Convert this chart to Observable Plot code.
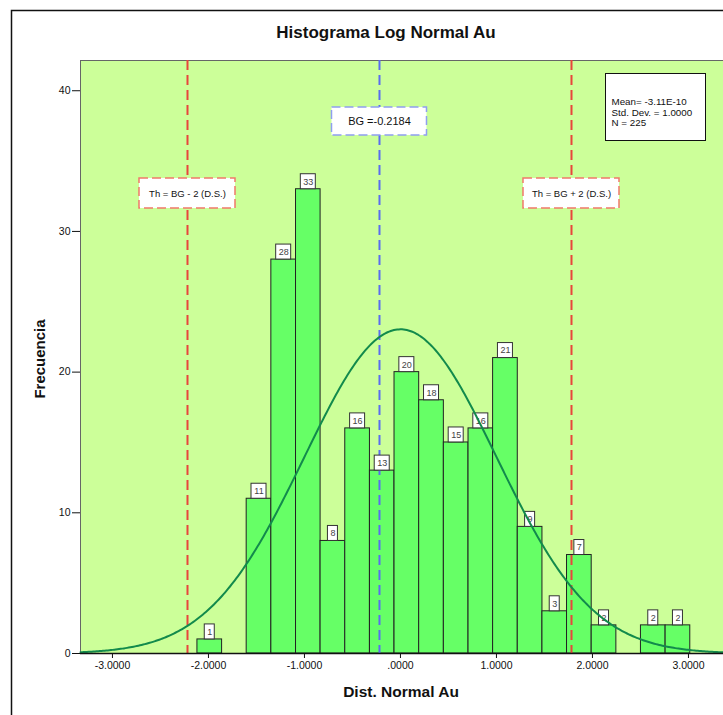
<!DOCTYPE html>
<html>
<head>
<meta charset="utf-8">
<script src="https://cdn.jsdelivr.net/npm/d3@7"></script>
<script src="https://cdn.jsdelivr.net/npm/@observablehq/plot@0.6"></script>
<style>
  html, body { margin: 0; padding: 0; background: white; }
  #chart svg { display: block; }
</style>
</head>
<body>
<div id="chart"></div>
<script>
// ---- data ----
const binEdges = [-2.115, -1.858, -1.602, -1.345, -1.088, -0.832, -0.575, -0.318, -0.062, 0.195,
                  0.452, 0.709, 0.965, 1.222, 1.479, 1.735, 1.992, 2.249, 2.505, 2.762, 3.019];
const counts = [1, 0, 11, 28, 33, 8, 16, 13, 20, 18, 15, 16, 21, 9, 3, 7, 2, 0, 2, 2];
const statMean = -3.11e-10;
const statSD = 1.0;
const statN = 225;
const bgValue = -0.2184;
const thValues = [-2.2184, 1.7816];
const thLabels = ["Th = BG - 2 (D.S.)", "Th = BG + 2 (D.S.)"];
const bgLabel = "BG =-0.2184";
const statsLabel = "Mean= -3.11E-10\nStd. Dev. = 1.0000\nN = 225";
const xTicks = [-3, -2, -1, 0, 1, 2, 3];
const yTicks = [0, 10, 20, 30, 40];

// ---- derived tables ----
const bins = counts.map((c, i) => ({x1: binEdges[i], x2: binEdges[i + 1], mid: (binEdges[i] + binEdges[i + 1]) / 2, count: c}))
  .filter(d => d.count > 0);
const binWidth = (binEdges[binEdges.length - 1] - binEdges[0]) / counts.length;
const xDomain = [-3.333, 3.365];
const curve = d3.range(0, 401).map(i => {
  const x = xDomain[0] + (xDomain[1] - xDomain[0]) * i / 400;
  const z = (x - statMean) / statSD;
  return {x, y: statN * binWidth * Math.exp(-0.5 * z * z) / (statSD * Math.sqrt(2 * Math.PI))};
});

const font = "'Liberation Sans', Arial, sans-serif";

const plot = Plot.plot({
  width: 723,
  height: 715,
  marginLeft: 80,
  marginRight: 0,
  marginTop: 60,
  marginBottom: 62,
  style: {fontFamily: font, fontSize: "10.5px", background: "white", color: "#111", overflow: "visible"},
  x: {domain: xDomain, ticks: xTicks, tickFormat: d => d === 0 ? ".0000" : d.toFixed(4), tickSize: 5, tickPadding: 3, label: null},
  y: {domain: [0, 42.15], ticks: yTicks, tickSize: 8, tickPadding: 2, label: null},
  marks: [
    // outer chart border
    Plot.frame({stroke: "#111", strokeWidth: 1.5, fill: "none", insetLeft: -69, insetTop: -50, insetRight: -10, insetBottom: -80}),
    // plot background
    Plot.frame({fill: "#ccff99", stroke: "#666", strokeWidth: 1}),
    // bars
    Plot.rectY(bins, {x1: "x1", x2: "x2", y1: 0, y2: "count", fill: "#66ff66", stroke: "#222", strokeWidth: 1}),
    // threshold and background lines
    Plot.ruleX(thValues, {stroke: "#e8453c", strokeWidth: 2, strokeDasharray: "10,5"}),
    Plot.ruleX([bgValue], {stroke: "#5a6cf0", strokeWidth: 2, strokeDasharray: "10,5"}),
    // bar count labels
    Plot.rect(bins.filter(d => d.count < 10), {x1: "mid", x2: "mid", y1: "count", y2: "count", insetLeft: -5, insetRight: -5, insetTop: -15, insetBottom: 0, fill: "white", stroke: "#333", strokeWidth: 1}),
    Plot.rect(bins.filter(d => d.count >= 10), {x1: "mid", x2: "mid", y1: "count", y2: "count", insetLeft: -7.5, insetRight: -7.5, insetTop: -15, insetBottom: 0, fill: "white", stroke: "#333", strokeWidth: 1}),
    Plot.text(bins, {x: "mid", y: "count", text: d => String(d.count), dy: -7.5, fontSize: 9, fill: "#444"}),
    // normal curve
    Plot.line(curve, {x: "x", y: "y", stroke: "#128a4c", strokeWidth: 2, curve: "linear"}),
    Plot.ruleY([0], {stroke: "#111", strokeWidth: 1.5}),
    // annotation boxes
    Plot.rect(thValues, {x1: d => d, x2: d => d, insetLeft: -48, insetRight: -48, insetTop: 118, insetBottom: 445, fill: "white", stroke: "#f07a6a", strokeWidth: 1.5, strokeDasharray: "9,4"}),
    Plot.text(thValues, {x: d => d, frameAnchor: "top", lineAnchor: "middle", dy: 133, text: (d, i) => thLabels[i], fontSize: 9.5, fill: "#111"}),
    Plot.rect([bgValue], {x1: d => d, x2: d => d, insetLeft: -47.5, insetRight: -47.5, insetTop: 47, insetBottom: 518, fill: "white", stroke: "#8f9ff0", strokeWidth: 1.5, strokeDasharray: "9,4"}),
    Plot.text([bgValue], {x: d => d, frameAnchor: "top", lineAnchor: "middle", dy: 61, text: () => bgLabel, fontSize: 11, fill: "#111"}),
    // statistics box
    Plot.frame({fill: "white", stroke: "#111", strokeWidth: 1, insetLeft: 525, insetRight: 18, insetTop: 13, insetBottom: 513}),
    Plot.text([statsLabel], {frameAnchor: "top-left", dx: 531, dy: 37.5, text: d => d, fontSize: 9.8, lineHeight: 1.07, textAnchor: "start", lineAnchor: "top", fill: "#111"}),
    // title and axis labels
    Plot.text(["Histograma Log Normal Au"], {frameAnchor: "top", lineAnchor: "middle", textAnchor: "middle", dx: -16, dy: -28, text: d => d, fontSize: 17, fontWeight: "bold", fill: "#111"}),
    Plot.text(["Dist. Normal Au"], {frameAnchor: "bottom", lineAnchor: "middle", textAnchor: "middle", dx: -1, dy: 39, text: d => d, fontSize: 15.5, fontWeight: "bold", fill: "#111"}),
    Plot.text(["Frecuencia"], {frameAnchor: "left", lineAnchor: "middle", textAnchor: "middle", dx: -40, dy: 2, rotate: -90, text: d => d, fontSize: 15, fontWeight: "bold", fill: "#111"})
  ]
});
document.getElementById("chart").appendChild(plot);
</script>
</body>
</html>
